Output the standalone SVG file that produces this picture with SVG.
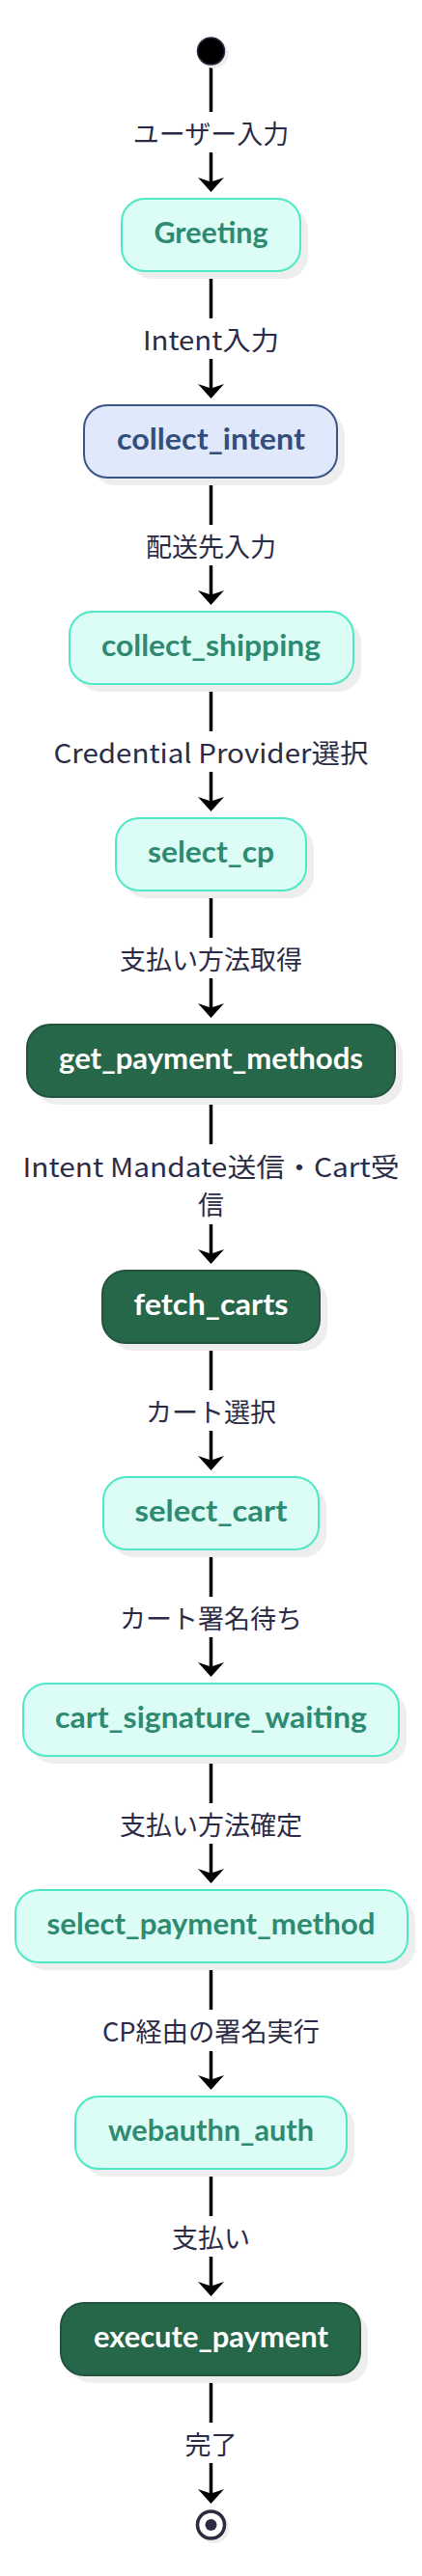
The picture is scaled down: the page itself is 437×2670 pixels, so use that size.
<svg xmlns="http://www.w3.org/2000/svg" width="437" height="2670" viewBox="0 0 437 2670">
<defs>
<marker id="arr" markerUnits="userSpaceOnUse" viewBox="-16 -15 17 30" markerWidth="17" markerHeight="30" refX="-10" refY="0" orient="auto" overflow="visible">
<path d="M0,0 L-15,-13.5 L-10.5,0 L-15,13.5 Z" fill="#000"/>
</marker>
<style>
.sh{fill:#eeeeee}
.teal{fill:#dcfdf6;stroke:#4ee8c6;stroke-width:2}
.blue{fill:#e0e9fc;stroke:#3b5488;stroke-width:2}
.dark{fill:#276749;stroke:#22543d;stroke-width:2}
.nt{font-family:Lato,"DejaVu Sans",sans-serif;font-weight:bold;font-size:30px;text-anchor:middle}
.tt{fill:#2f8a72}
.bt{fill:#344e7c}
.dt{fill:#ffffff}
.lbl{font-family:"Noto Sans CJK JP","Noto Sans",sans-serif;font-size:27px;fill:#2b2b45;text-anchor:middle;dominant-baseline:central}
.edge{fill:none;stroke:#000;stroke-width:3.5;marker-end:url(#arr)}
</style>
</defs>
<rect width="437" height="2670" fill="#ffffff"/>

<g id="connectors">
<path class="edge" d="M218.5,67 V116 M218.5,158 V189"/>
<path class="edge" d="M218.5,281 V330 M218.5,372 V403"/>
<path class="edge" d="M218.5,495 V544 M218.5,586 V617"/>
<path class="edge" d="M218.5,709 V758 M218.5,800 V831"/>
<path class="edge" d="M218.5,923 V972 M218.5,1014 V1045"/>
<path class="edge" d="M218.5,1137 V1186 M218.5,1269 V1300"/>
<path class="edge" d="M218.5,1392 V1441 M218.5,1483 V1514"/>
<path class="edge" d="M218.5,1606 V1655 M218.5,1697 V1728"/>
<path class="edge" d="M218.5,1820 V1869 M218.5,1911 V1942"/>
<path class="edge" d="M218.5,2034 V2083 M218.5,2126 V2156"/>
<path class="edge" d="M218.5,2248 V2297 M218.5,2339 V2370"/>
<path class="edge" d="M218.5,2462 V2511 M218.5,2553 V2585"/>
<text class="lbl" x="218.5" y="137">ユーザー入力</text>
<text class="lbl" x="218.5" y="351" textLength="141" lengthAdjust="spacingAndGlyphs">Intent入力</text>
<text class="lbl" x="218.5" y="565">配送先入力</text>
<text class="lbl" x="218.5" y="779" textLength="326" lengthAdjust="spacingAndGlyphs">Credential Provider選択</text>
<text class="lbl" x="218.5" y="993">支払い方法取得</text>
<text class="lbl" x="218.5" y="1208" textLength="390" lengthAdjust="spacingAndGlyphs">Intent Mandate送信・Cart受</text>
<text class="lbl" x="218.5" y="1247">信</text>
<text class="lbl" x="218.5" y="1462">カート選択</text>
<text class="lbl" x="218.5" y="1676">カート署名待ち</text>
<text class="lbl" x="218.5" y="1890">支払い方法確定</text>
<text class="lbl" x="218.5" y="2104" textLength="225" lengthAdjust="spacingAndGlyphs">CP経由の署名実行</text>
<text class="lbl" x="218.5" y="2318">支払い</text>
<text class="lbl" x="218.5" y="2532">完了</text>
</g>

<g id="start">
<circle cx="221.5" cy="56" r="15" class="sh"/>
<circle cx="218.5" cy="53" r="14" fill="#000" stroke="#2a2a40" stroke-width="1.5"/>
</g>

<g id="greeting">
<rect x="134" y="214" width="185" height="75" rx="24" class="sh"/>
<rect x="126" y="206" width="185" height="75" rx="24" class="teal"/>
<text x="218.5" y="252" class="nt tt" textLength="118" lengthAdjust="spacingAndGlyphs">Greeting</text>
</g>

<g id="collect_intent">
<rect x="95" y="428" width="262" height="75" rx="24" class="sh"/>
<rect x="87" y="420" width="262" height="75" rx="24" class="blue"/>
<text x="218.5" y="466" class="nt bt" textLength="195" lengthAdjust="spacingAndGlyphs">collect_intent</text>
</g>

<g id="collect_shipping">
<rect x="80" y="642" width="294" height="75" rx="24" class="sh"/>
<rect x="72" y="634" width="294" height="75" rx="24" class="teal"/>
<text x="218.5" y="680" class="nt tt" textLength="227" lengthAdjust="spacingAndGlyphs">collect_shipping</text>
</g>

<g id="select_cp">
<rect x="128" y="856" width="197" height="75" rx="24" class="sh"/>
<rect x="120" y="848" width="197" height="75" rx="24" class="teal"/>
<text x="218.5" y="894" class="nt tt" textLength="131" lengthAdjust="spacingAndGlyphs">select_cp</text>
</g>

<g id="get_payment_methods">
<rect x="36" y="1070" width="381" height="75" rx="24" class="sh"/>
<rect x="28" y="1062" width="381" height="75" rx="24" class="dark"/>
<text x="218.5" y="1108" class="nt dt" textLength="315" lengthAdjust="spacingAndGlyphs">get_payment_methods</text>
</g>

<g id="fetch_carts">
<rect x="114" y="1325" width="225" height="75" rx="24" class="sh"/>
<rect x="106" y="1317" width="225" height="75" rx="24" class="dark"/>
<text x="218.5" y="1363" class="nt dt" textLength="160" lengthAdjust="spacingAndGlyphs">fetch_carts</text>
</g>

<g id="select_cart">
<rect x="115" y="1539" width="223" height="75" rx="24" class="sh"/>
<rect x="107" y="1531" width="223" height="75" rx="24" class="teal"/>
<text x="218.5" y="1577" class="nt tt" textLength="158" lengthAdjust="spacingAndGlyphs">select_cart</text>
</g>

<g id="cart_signature_waiting">
<rect x="32" y="1753" width="389" height="75" rx="24" class="sh"/>
<rect x="24" y="1745" width="389" height="75" rx="24" class="teal"/>
<text x="218.5" y="1791" class="nt tt" textLength="323" lengthAdjust="spacingAndGlyphs">cart_signature_waiting</text>
</g>

<g id="select_payment_method">
<rect x="24" y="1967" width="406" height="75" rx="24" class="sh"/>
<rect x="16" y="1959" width="406" height="75" rx="24" class="teal"/>
<text x="218.5" y="2005" class="nt tt" textLength="340" lengthAdjust="spacingAndGlyphs">select_payment_method</text>
</g>

<g id="webauthn_auth">
<rect x="86" y="2181" width="281" height="75" rx="24" class="sh"/>
<rect x="78" y="2173" width="281" height="75" rx="24" class="teal"/>
<text x="218.5" y="2219" class="nt tt" textLength="213" lengthAdjust="spacingAndGlyphs">webauthn_auth</text>
</g>

<g id="execute_payment">
<rect x="71" y="2395" width="310" height="75" rx="24" class="sh"/>
<rect x="63" y="2387" width="310" height="75" rx="24" class="dark"/>
<text x="218.5" y="2433" class="nt dt" textLength="243" lengthAdjust="spacingAndGlyphs">execute_payment</text>
</g>

<g id="end">
<circle cx="221.5" cy="2620" r="16" class="sh"/>
<circle cx="218.5" cy="2617" r="14" fill="#fff" stroke="#2a2a40" stroke-width="3.5"/>
<circle cx="218.5" cy="2617" r="6" fill="#2a2a40"/>
</g>
</svg>
